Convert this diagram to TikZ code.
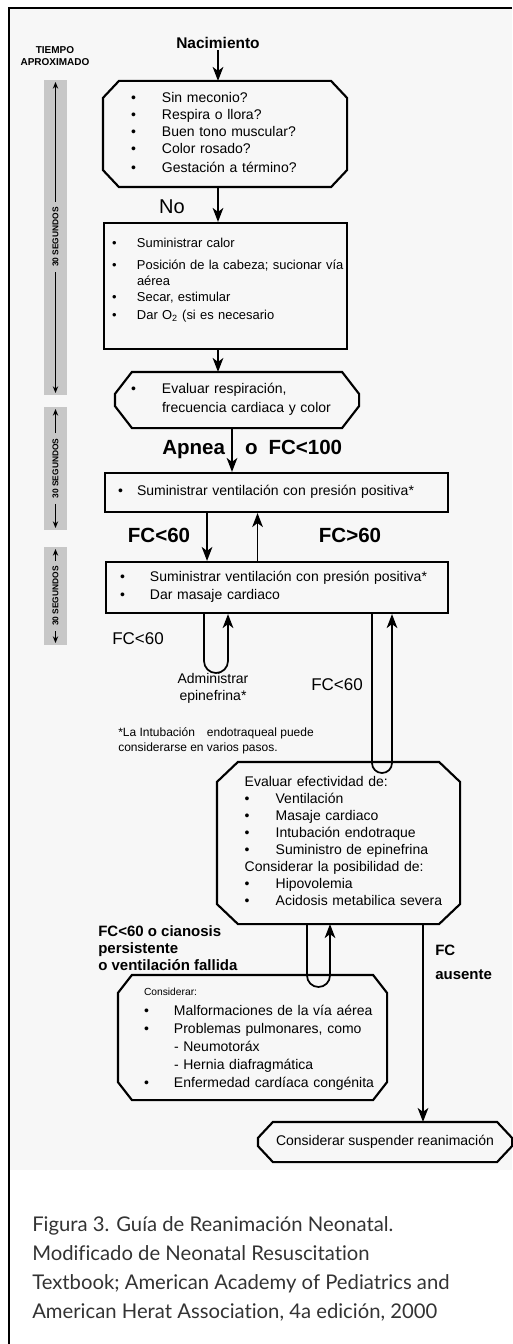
\documentclass[tikz,border=0pt]{standalone}
\usepackage{fontspec}
\setmainfont{Liberation Sans}
\newfontfamily\capfont[Ligatures=NoCommon]{Lato}
\usetikzlibrary{arrows.meta}

% contorno con esquinas recortadas alrededor de un nodo
\newcommand\chamferbox[3]{%
  \draw[boxline] ([xshift=#2]#1.north west) -- ([xshift=-#2]#1.north east)
    -- ([yshift=-#3]#1.north east) -- ([yshift=#3]#1.south east)
    -- ([xshift=-#2]#1.south east) -- ([xshift=#2]#1.south west)
    -- ([yshift=#3]#1.south west) -- ([yshift=-#3]#1.north west) -- cycle;}

\begin{document}
\begin{tikzpicture}[
  x=0.75pt, y=-0.75pt,
  boxline/.style={line width=1.6pt},
  box/.style={draw, boxline, align=left, inner ysep=0pt,
    font=\fontsize{10.5}{12.75}\selectfont},
  cbox/.style={box, draw=none},
  lbl/.style={inner sep=0pt, font=\bfseries\fontsize{15.4}{18}\selectfont},
  note/.style={inner sep=0pt, align=center, font=\fontsize{12.75}{15}\selectfont},
  arr/.style={-{Stealth[length=10.5pt,width=8pt,inset=3pt]}, line width=1.3pt},
  tarr/.style={-{Stealth[length=5pt,width=4pt]}, line width=0.8pt},
  bar/.style={fill=black!22},
  seg/.style={rotate=90, inner sep=4pt, font=\bfseries\fontsize{6.3}{7}\selectfont}
]
\useasboundingbox (0,0) rectangle (512,1344);
\fill[black!3] (9,8) rectangle (512,1170);
\draw[line width=1pt] (9,1344) -- (9,8) -- (512,8);

% tiempo aproximado
\node[inner sep=0pt, align=center, font=\bfseries\fontsize{7.5}{9}\selectfont] (tiempo) at (55,56) {TIEMPO\\APROXIMADO};
\fill[bar] (44,80) rectangle (67,395);
\fill[bar] (44,407) rectangle (67,530);
\fill[bar] (44,547) rectangle (67,645);
\node[seg] (t1) at (55.5,237) {30 SEGUNDOS};
\node[seg] (t2) at (55.5,468.5) {30 SEGUNDOS};
\node[seg] (t3) at (55.5,596) {30 SEGUNDOS};
\draw[tarr] (t1.east) -- (55.5,82);
\draw[tarr] (t1.west) -- (55.5,393);
\draw[tarr] (t2.east) -- (55.5,409);
\draw[tarr] (t2.west) -- (55.5,528);
\draw[tarr] (t3.east) -- (55.5,549);
\draw[tarr] (t3.west) -- (55.5,643);

% flujo
\node[inner sep=1pt, font=\bfseries\fontsize{11.6}{14}\selectfont] (nac) at (218,43) {Nacimiento};

\node[cbox, minimum width=181.5pt, minimum height=78pt, inner xsep=20.25pt, text width=141pt] (chk) at (225,134)
  {\begin{tabular}{@{}p{23.25pt}@{}l@{}}
  \textbullet & Sin meconio?\\
  \textbullet & Respira o llora?\\
  \textbullet & Buen tono muscular?\\
  \textbullet & Color rosado?\\[1pt]
  \textbullet & Gestación a término?
  \end{tabular}};
\chamferbox{chk}{12pt}{12.75pt}

\node[box, minimum width=182.25pt, minimum height=94.5pt, inner xsep=6pt, text width=170.25pt,
  font=\fontsize{9.7}{12}\selectfont] (care) at (225.5,286)
  {\begin{tabular}{@{}p{18.75pt}@{}l@{}}
  \textbullet & Suministrar calor\\[4.5pt]
  \textbullet & Posición de la cabeza; sucionar vía\\
   & aérea\\
  \textbullet & Secar, estimular\\[1.5pt]
  \textbullet & Dar O\textsubscript{2} (si es necesario\\[8pt]
  \end{tabular}};

\node[cbox, minimum width=181.5pt, minimum height=40.5pt, inner xsep=11.25pt, text width=159pt] (eval) at (237,400)
  {\begin{tabular}{@{}p{23.25pt}@{}l@{}}
  \textbullet & Evaluar respiración,\\[1.5pt]
   & frecuencia cardiaca y color
  \end{tabular}};
\chamferbox{eval}{12.75pt}{16.5pt}

\node[box, minimum width=257.25pt, minimum height=29.25pt, inner xsep=9.75pt, text width=237.75pt] (ppv) at (276.5,492.5)
  {\begin{tabular}{@{}p{14.25pt}@{}l@{}}
  \textbullet & Suministrar ventilación con presión positiva*
  \end{tabular}};

\node[box, minimum width=256.5pt, minimum height=38.25pt, inner xsep=10.5pt, text width=235.5pt] (cpr) at (277,587.5)
  {\begin{tabular}{@{}p{22.5pt}@{}l@{}}
  \textbullet & Suministrar ventilación con presión positiva*\\[0.75pt]
  \textbullet & Dar masaje cardiaco
  \end{tabular}};

\node[cbox, minimum width=180.75pt, minimum height=120pt, inner xsep=20pt, text width=140.75pt] (eff) at (338.5,843)
  {\begin{tabular}{@{}p{23.25pt}@{}l@{}}
  \multicolumn{2}{@{}l@{}}{Evaluar efectividad de:}\\
  \textbullet & Ventilación\\
  \textbullet & Masaje cardiaco\\
  \textbullet & Intubación endotraque\\
  \textbullet & Suministro de epinefrina\\
  \multicolumn{2}{@{}l@{}}{Considerar la posibilidad de:}\\
  \textbullet & Hipovolemia\\
  \textbullet & Acidosis metabilica severa
  \end{tabular}};
\chamferbox{eff}{15.75pt}{15pt}

\node[cbox, minimum width=200.25pt, minimum height=92.25pt, inner xsep=18.75pt, text width=162.75pt,
  font=\fontsize{10.5}{13.5}\selectfont] (cons) at (252.5,1037.5)
  {\begin{tabular}{@{}p{22.5pt}@{}l@{}}
  \multicolumn{2}{@{}l@{}}{\fontsize{7.7}{9}\selectfont Considerar:}\\[1.5pt]
  \textbullet & Malformaciones de la vía aérea\\
  \textbullet & Problemas pulmonares, como\\
   & - Neumotoráx\\
   & - Hernia diafragmática\\
  \textbullet & Enfermedad cardíaca congénita
  \end{tabular}};
\chamferbox{cons}{10.5pt}{13.5pt}

\node[cbox, minimum width=189pt, minimum height=28.5pt, align=center] (stop) at (385,1142)
  {Considerar suspender reanimación};
\chamferbox{stop}{11.25pt}{12pt}

% etiquetas
\node[inner sep=0pt, font=\fontsize{15}{18}\selectfont] (no) at (172,207) {No};
\node[lbl, anchor=west] (apnea) at (162,449) {Apnea\hspace{15pt}o\hspace{8.25pt}FC<100};
\node[lbl] (bajo) at (159,535) {FC<60};
\node[lbl] (alto) at (350,535) {FC>60};
\node[note] (fcepi) at (138,639) {FC<60};
\node[note] (fceff) at (337,685) {FC<60};
\node[note, font=\fontsize{10.5}{12.75}\selectfont] (epi) at (213,688) {Administrar\\epinefrina*};
\node[inner sep=0pt, anchor=west, align=left, font=\fontsize{9}{11.25}\selectfont] (nota) at (118,740.5)
  {*La Intubación\quad endotraqueal puede\\considerarse en varios pasos.};
\node[inner sep=0pt, anchor=west, align=left, font=\bfseries\fontsize{11.25}{12.75}\selectfont] (cian) at (98,948)
  {FC<60 o cianosis\\persistente\\o ventilación fallida};
\node[inner sep=0pt, anchor=west, align=left, font=\bfseries\fontsize{11.25}{18}\selectfont] (aus) at (435,962)
  {FC\\ausente};

% conectores
\draw[arr] (nac) -- (chk.north -| nac);
\draw[arr] (chk.south -| nac) -- (care.north -| nac);
\draw[arr] (care.south -| nac) -- (eval.north -| nac);
\draw[arr] ([xshift=-3.75pt]eval.south) -- ([xshift=-3.75pt]eval.south |- ppv.north);
\draw[arr] ([xshift=-52.1pt]ppv.south) -- ([xshift=-52.1pt]ppv.south |- cpr.north);
\draw[arr] ([xshift=-14.6pt]cpr.north) -- ([xshift=-14.6pt]cpr.north |- ppv.south);

\coordinate (ea) at (204,661);
\draw[arr] ([xshift=-54.75pt]cpr.south) -- (ea) arc[start angle=180, end angle=360, radius=9pt]
  -- ([xshift=-36.75pt]cpr.south);
\coordinate (fa) at (372,763);
\draw[arr] ([xshift=71.25pt]cpr.south) -- (fa) arc[start angle=180, end angle=360, radius=7.5pt]
  -- ([xshift=86.25pt]cpr.south);
\coordinate (ca) at (307,975.5);
\draw[arr] ([xshift=-23.625pt]eff.south) -- (ca) arc[start angle=180, end angle=360, radius=8.625pt]
  -- ([xshift=-6.375pt]eff.south);
\draw[arr] ([xshift=63.375pt]eff.south) -- ([xshift=63.375pt]eff.south |- stop.north);

% pie
\node[inner sep=0pt, anchor=west, align=left, text=black!80, font=\capfont\fontsize{15.2}{21.75}\selectfont] (cap) at (32,1268.5)
  {Figura 3. Guía de Reanimación Neonatal.\\
   Modificado de Neonatal Resuscitation\\
   Textbook; American Academy of Pediatrics and\\
   American Herat Association, 4a edición, 2000};
\end{tikzpicture}
\end{document}
